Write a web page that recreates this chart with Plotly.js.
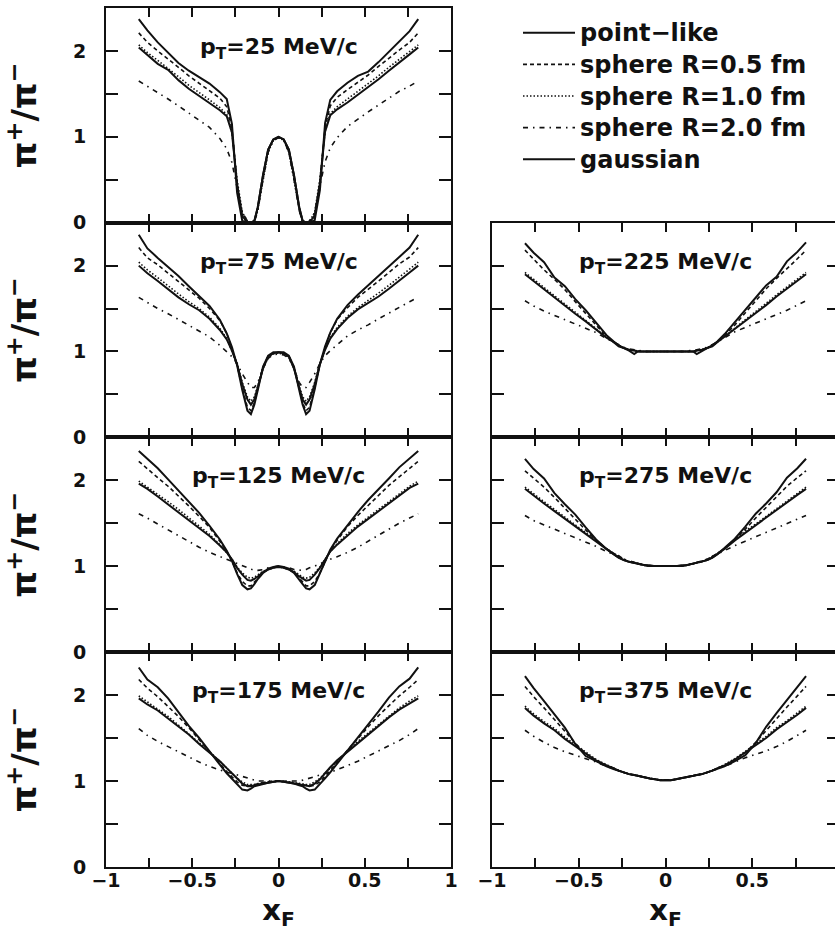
<!DOCTYPE html>
<html>
<head>
<meta charset="utf-8">
<script src="https://cdn.plot.ly/plotly-3.0.1.min.js"></script>
<style>html,body{margin:0;padding:0;overflow:hidden;background:#fff;}#chart{width:840px;height:931px;}</style>
</head>
<body>
<div id="chart"></div>
<script>
// x_F sampling points
const xF = [-0.81,-0.76,-0.70,-0.64,-0.58,-0.52,-0.46,-0.40,-0.34,-0.30,-0.27,-0.24,-0.21,-0.18,-0.16,-0.14,-0.12,-0.09,-0.06,-0.03,0,
            0.03,0.06,0.09,0.12,0.14,0.16,0.18,0.21,0.24,0.27,0.30,0.34,0.40,0.46,0.52,0.58,0.64,0.70,0.76,0.81];

const seriesNames = ["point\u2212like","sphere R=0.5 fm","sphere R=1.0 fm","sphere R=2.0 fm","gaussian"];
const panelLabels = ["25","75","125","175","225","275","375"];

// pT = 25 MeV/c
const pt25_point = [2.37,2.24,2.10,1.98,1.86,1.77,1.70,1.62,1.52,1.44,1.15,0.35,0.02,0.0,0.0,0.02,0.18,0.55,0.85,0.97,1.0,
                    0.97,0.85,0.55,0.18,0.02,0.0,0.0,0.03,0.38,1.16,1.43,1.53,1.63,1.71,1.76,1.87,1.99,2.11,2.23,2.37];
const pt25_r05   = [2.21,2.10,2.00,1.91,1.81,1.71,1.62,1.54,1.45,1.35,1.10,0.45,0.06,0.0,0.0,0.02,0.17,0.54,0.84,0.97,0.99,
                    0.97,0.84,0.54,0.17,0.02,0.0,0.0,0.07,0.46,1.11,1.36,1.46,1.55,1.63,1.72,1.82,1.92,2.01,2.10,2.21];
const pt25_r10   = [2.07,1.98,1.89,1.80,1.70,1.60,1.52,1.43,1.34,1.26,1.05,0.50,0.12,0.02,0.0,0.01,0.15,0.50,0.82,0.96,0.99,
                    0.96,0.82,0.50,0.15,0.01,0.0,0.02,0.12,0.51,1.06,1.27,1.35,1.44,1.53,1.61,1.71,1.81,1.90,1.99,2.07];
const pt25_r20   = [1.65,1.59,1.52,1.44,1.36,1.28,1.20,1.11,0.98,0.86,0.70,0.42,0.12,0.02,0.0,0.01,0.14,0.50,0.82,0.96,0.99,
                    0.96,0.82,0.50,0.14,0.01,0.0,0.02,0.12,0.43,0.71,0.87,0.99,1.12,1.21,1.29,1.37,1.45,1.53,1.59,1.65];
const pt25_gaus  = [2.04,1.95,1.85,1.78,1.66,1.56,1.48,1.39,1.31,1.24,1.05,0.45,0.08,0.0,0.0,0.02,0.18,0.55,0.85,0.97,1.0,
                    0.97,0.85,0.55,0.18,0.02,0.0,0.0,0.09,0.46,1.06,1.25,1.32,1.40,1.49,1.57,1.67,1.77,1.86,1.96,2.04];

// pT = 75 MeV/c
const pt75_point = [2.36,2.20,2.09,1.99,1.88,1.76,1.65,1.53,1.37,1.21,1.05,0.84,0.55,0.31,0.27,0.38,0.55,0.82,0.95,0.99,0.99,
                    0.99,0.95,0.82,0.55,0.38,0.27,0.31,0.56,0.85,1.06,1.22,1.38,1.54,1.66,1.77,1.89,2.00,2.10,2.21,2.36];
const pt75_r05   = [2.21,2.09,2.01,1.91,1.81,1.71,1.62,1.50,1.36,1.21,1.03,0.84,0.57,0.35,0.31,0.40,0.57,0.82,0.94,0.98,0.99,
                    0.98,0.94,0.82,0.57,0.40,0.31,0.35,0.58,0.85,1.04,1.22,1.37,1.51,1.63,1.72,1.82,1.92,2.02,2.10,2.21];
const pt75_r10   = [2.04,1.95,1.86,1.76,1.67,1.58,1.50,1.40,1.27,1.15,1.01,0.86,0.64,0.47,0.42,0.47,0.60,0.80,0.93,0.97,0.98,
                    0.97,0.93,0.80,0.60,0.47,0.42,0.47,0.64,0.86,1.02,1.16,1.28,1.41,1.51,1.59,1.68,1.77,1.87,1.96,2.04];
const pt75_r20   = [1.63,1.57,1.50,1.44,1.37,1.30,1.24,1.17,1.07,1.00,0.94,0.86,0.74,0.64,0.58,0.58,0.64,0.80,0.92,0.96,0.97,
                    0.96,0.92,0.80,0.64,0.58,0.58,0.64,0.74,0.86,0.95,1.01,1.08,1.18,1.25,1.31,1.38,1.45,1.51,1.58,1.63];
const pt75_gaus  = [2.00,1.91,1.82,1.72,1.63,1.55,1.48,1.38,1.25,1.14,1.01,0.85,0.62,0.44,0.38,0.44,0.58,0.80,0.94,0.98,0.99,
                    0.98,0.94,0.80,0.58,0.44,0.38,0.44,0.62,0.85,1.02,1.15,1.26,1.39,1.49,1.56,1.64,1.73,1.83,1.92,2.00];

// pT = 125 MeV/c
const pt125_point = [2.34,2.25,2.14,2.01,1.88,1.76,1.62,1.47,1.31,1.18,1.06,0.91,0.78,0.73,0.74,0.79,0.85,0.92,0.97,0.99,1.0,
                     0.99,0.97,0.92,0.85,0.79,0.74,0.73,0.78,0.91,1.06,1.19,1.32,1.48,1.63,1.77,1.89,2.02,2.15,2.26,2.34];
const pt125_r05   = [2.22,2.13,2.03,1.93,1.82,1.70,1.58,1.45,1.29,1.17,1.06,0.92,0.82,0.77,0.77,0.81,0.86,0.92,0.96,0.98,0.99,
                     0.98,0.96,0.92,0.86,0.81,0.77,0.77,0.82,0.92,1.06,1.18,1.30,1.46,1.59,1.71,1.83,1.94,2.04,2.14,2.22];
const pt125_r10   = [1.99,1.92,1.84,1.75,1.66,1.56,1.47,1.37,1.25,1.16,1.08,0.99,0.92,0.87,0.86,0.87,0.90,0.94,0.96,0.98,0.99,
                     0.98,0.96,0.94,0.90,0.87,0.86,0.87,0.92,0.99,1.08,1.17,1.26,1.38,1.48,1.57,1.67,1.76,1.85,1.93,1.99];
const pt125_r20   = [1.61,1.56,1.49,1.42,1.35,1.28,1.22,1.16,1.11,1.08,1.05,1.03,1.00,0.98,0.96,0.95,0.95,0.96,0.98,0.99,1.0,
                     0.99,0.98,0.96,0.95,0.95,0.96,0.98,1.00,1.03,1.05,1.08,1.11,1.16,1.22,1.29,1.36,1.43,1.50,1.56,1.61];
const pt125_gaus  = [1.96,1.90,1.81,1.72,1.63,1.54,1.45,1.35,1.24,1.16,1.08,0.98,0.90,0.84,0.83,0.85,0.88,0.93,0.96,0.98,0.99,
                     0.98,0.96,0.93,0.88,0.85,0.83,0.84,0.90,0.98,1.08,1.17,1.25,1.36,1.46,1.55,1.64,1.73,1.82,1.91,1.96];

// pT = 175 MeV/c
const pt175_point = [2.32,2.18,2.09,1.96,1.80,1.64,1.50,1.34,1.19,1.09,1.03,0.96,0.90,0.89,0.91,0.94,0.95,0.97,0.98,0.99,1.0,
                     0.99,0.98,0.97,0.95,0.94,0.91,0.89,0.90,0.96,1.03,1.10,1.20,1.35,1.51,1.65,1.81,1.97,2.10,2.19,2.32];
const pt175_r05   = [2.18,2.08,1.98,1.87,1.75,1.62,1.48,1.35,1.21,1.11,1.05,0.99,0.95,0.94,0.95,0.96,0.97,0.98,0.99,1.0,1.0,
                     1.0,0.99,0.98,0.97,0.96,0.95,0.94,0.95,0.99,1.05,1.12,1.22,1.36,1.49,1.63,1.76,1.88,1.99,2.09,2.18];
const pt175_r10   = [1.99,1.92,1.84,1.75,1.65,1.55,1.45,1.34,1.23,1.15,1.09,1.03,0.99,0.96,0.96,0.96,0.97,0.98,0.99,0.99,1.0,
                     0.99,0.99,0.98,0.97,0.96,0.96,0.96,0.99,1.03,1.09,1.16,1.24,1.35,1.46,1.56,1.66,1.76,1.85,1.93,1.99];
const pt175_r20   = [1.61,1.53,1.46,1.40,1.34,1.28,1.22,1.17,1.13,1.10,1.09,1.07,1.05,1.03,1.02,1.01,1.00,1.00,1.00,1.00,1.0,
                     1.00,1.00,1.00,1.00,1.01,1.02,1.03,1.05,1.07,1.09,1.10,1.13,1.18,1.23,1.29,1.35,1.41,1.47,1.54,1.61];
const pt175_gaus  = [1.96,1.89,1.82,1.73,1.63,1.54,1.43,1.33,1.23,1.15,1.09,1.02,0.97,0.94,0.94,0.95,0.96,0.97,0.98,0.99,1.0,
                     0.99,0.98,0.97,0.96,0.95,0.94,0.94,0.97,1.02,1.09,1.16,1.24,1.34,1.44,1.55,1.64,1.74,1.83,1.90,1.96];

// pT = 225 MeV/c
const pt225_point = [2.26,2.15,2.04,1.86,1.76,1.61,1.48,1.33,1.19,1.12,1.07,1.04,1.01,0.97,1.00,1.00,1.00,1.00,1.00,1.00,1.00,
                     1.00,1.00,1.00,1.00,1.00,1.00,0.97,1.01,1.04,1.07,1.12,1.20,1.34,1.49,1.62,1.77,1.87,2.05,2.16,2.27];
const pt225_r05   = [2.18,2.07,1.95,1.84,1.72,1.58,1.44,1.30,1.17,1.11,1.07,1.04,1.02,1.01,1.00,1.00,1.00,1.00,1.00,1.00,1.00,
                     1.00,1.00,1.00,1.00,1.00,1.00,1.01,1.02,1.04,1.07,1.11,1.18,1.31,1.45,1.59,1.73,1.85,1.96,2.08,2.18];
const pt225_r10   = [1.92,1.84,1.74,1.65,1.55,1.45,1.36,1.26,1.17,1.11,1.07,1.04,1.02,1.01,1.00,1.00,1.00,1.00,1.00,1.00,1.00,
                     1.00,1.00,1.00,1.00,1.00,1.00,1.01,1.02,1.04,1.07,1.11,1.17,1.27,1.37,1.46,1.56,1.66,1.75,1.85,1.92];
const pt225_r20   = [1.59,1.53,1.47,1.42,1.37,1.32,1.27,1.22,1.15,1.11,1.08,1.05,1.03,1.02,1.01,1.01,1.00,1.00,1.00,1.00,1.00,
                     1.00,1.00,1.00,1.00,1.01,1.01,1.02,1.03,1.05,1.08,1.11,1.16,1.23,1.28,1.33,1.38,1.43,1.48,1.54,1.59];
const pt225_gaus  = [1.90,1.82,1.72,1.63,1.53,1.44,1.35,1.25,1.16,1.11,1.06,1.04,1.02,1.01,1.00,1.00,1.00,1.00,1.00,1.00,1.00,
                     1.00,1.00,1.00,1.00,1.00,1.00,1.01,1.02,1.04,1.06,1.11,1.17,1.26,1.36,1.45,1.54,1.64,1.73,1.83,1.90];

// pT = 275 MeV/c
const pt275_point = [2.25,2.13,2.02,1.85,1.72,1.60,1.45,1.31,1.20,1.14,1.10,1.07,1.05,1.04,1.03,1.02,1.01,1.01,1.00,1.00,1.00,
                     1.00,1.00,1.01,1.01,1.02,1.03,1.04,1.05,1.07,1.10,1.14,1.21,1.32,1.46,1.61,1.73,1.86,2.03,2.14,2.25];
const pt275_r05   = [2.11,2.02,1.92,1.80,1.67,1.55,1.42,1.30,1.20,1.15,1.12,1.08,1.05,1.04,1.03,1.02,1.01,1.00,1.00,1.00,1.00,
                     1.00,1.00,1.00,1.01,1.02,1.03,1.04,1.05,1.08,1.12,1.15,1.20,1.31,1.43,1.56,1.68,1.81,1.93,2.03,2.11];
const pt275_r10   = [1.92,1.84,1.75,1.66,1.57,1.48,1.40,1.30,1.20,1.15,1.11,1.08,1.05,1.04,1.03,1.02,1.01,1.00,1.00,1.00,1.00,
                     1.00,1.00,1.00,1.01,1.02,1.03,1.04,1.05,1.08,1.11,1.15,1.20,1.31,1.41,1.49,1.58,1.67,1.76,1.85,1.92];
const pt275_r20   = [1.59,1.53,1.48,1.43,1.38,1.33,1.28,1.23,1.17,1.14,1.11,1.08,1.06,1.04,1.03,1.02,1.01,1.00,1.00,1.00,1.00,
                     1.00,1.00,1.00,1.01,1.02,1.03,1.04,1.06,1.08,1.11,1.14,1.18,1.24,1.29,1.34,1.39,1.44,1.49,1.54,1.59];
const pt275_gaus  = [1.90,1.82,1.73,1.64,1.55,1.46,1.38,1.29,1.19,1.14,1.10,1.07,1.05,1.04,1.03,1.02,1.01,1.00,1.00,1.00,1.00,
                     1.00,1.00,1.00,1.01,1.02,1.03,1.04,1.05,1.07,1.10,1.14,1.20,1.30,1.39,1.47,1.56,1.65,1.74,1.83,1.90];

// pT = 375 MeV/c
const pt375_point = [2.22,2.08,1.93,1.78,1.62,1.43,1.29,1.23,1.17,1.14,1.12,1.10,1.08,1.07,1.06,1.05,1.04,1.03,1.02,1.01,1.01,
                     1.01,1.02,1.03,1.04,1.05,1.06,1.07,1.08,1.10,1.12,1.14,1.17,1.23,1.30,1.44,1.63,1.79,1.94,2.09,2.22];
const pt375_r05   = [2.10,1.98,1.85,1.72,1.58,1.44,1.32,1.24,1.18,1.15,1.12,1.10,1.08,1.07,1.06,1.05,1.04,1.03,1.02,1.01,1.01,
                     1.01,1.02,1.03,1.04,1.05,1.06,1.07,1.08,1.10,1.12,1.15,1.18,1.25,1.33,1.45,1.59,1.73,1.86,1.99,2.10];
const pt375_r10   = [1.87,1.78,1.69,1.61,1.51,1.42,1.33,1.25,1.19,1.15,1.12,1.10,1.08,1.07,1.06,1.05,1.04,1.03,1.02,1.01,1.01,
                     1.01,1.02,1.03,1.04,1.05,1.06,1.07,1.08,1.10,1.12,1.15,1.19,1.26,1.34,1.43,1.52,1.62,1.70,1.79,1.87];
const pt375_r20   = [1.59,1.52,1.45,1.39,1.34,1.30,1.26,1.22,1.17,1.14,1.12,1.10,1.08,1.07,1.06,1.05,1.04,1.03,1.02,1.01,1.01,
                     1.01,1.02,1.03,1.04,1.05,1.06,1.07,1.08,1.10,1.12,1.14,1.17,1.22,1.27,1.31,1.35,1.40,1.46,1.53,1.59];
const pt375_gaus  = [1.85,1.76,1.67,1.59,1.49,1.40,1.32,1.24,1.18,1.15,1.12,1.10,1.08,1.07,1.06,1.05,1.04,1.03,1.02,1.01,1.01,
                     1.01,1.02,1.03,1.04,1.05,1.06,1.07,1.08,1.10,1.12,1.15,1.18,1.25,1.33,1.41,1.50,1.60,1.68,1.77,1.85];

const panels = [
  [pt25_point, pt25_r05, pt25_r10, pt25_r20, pt25_gaus],
  [pt75_point, pt75_r05, pt75_r10, pt75_r20, pt75_gaus],
  [pt125_point, pt125_r05, pt125_r10, pt125_r20, pt125_gaus],
  [pt175_point, pt175_r05, pt175_r10, pt175_r20, pt175_gaus],
  [pt225_point, pt225_r05, pt225_r10, pt225_r20, pt225_gaus],
  [pt275_point, pt275_r05, pt275_r10, pt275_r20, pt275_gaus],
  [pt375_point, pt375_r05, pt375_r10, pt375_r20, pt375_gaus]
];

// styles
const lineStyles = [
  {color:"#111", width:2, dash:"solid"},
  {color:"#111", width:1.6, dash:"4px,3px"},
  {color:"#111", width:1.6, dash:"1.5px,2px"},
  {color:"#111", width:1.6, dash:"5px,5px,1.5px,5px"},
  {color:"#111", width:2, dash:"solid"}
];

const W = 840, H = 931;
const M = {l:106, r:1, t:8, b:64};
const PW = W - M.l - M.r, PH = H - M.t - M.b;
const FONT = "DejaVu Sans, Verdana, sans-serif";
// panel geometry (pixels, page coordinates)
const colX = [[106,451],[492,839]];
const rowY = [[8,222.7],[222.7,437.3],[437.3,652],[652,867]];
const panelPos = [[0,0],[0,1],[0,2],[0,3],[1,1],[1,2],[1,3]];
const fx = px => Math.min(1, Math.max(0, (px - M.l) / PW));
const fy = py => Math.min(1, Math.max(0, 1 - (py - M.t) / PH));

const traces = [];
const layout = {
  width: W, height: H,
  margin: M,
  paper_bgcolor: "#fff", plot_bgcolor: "#fff",
  showlegend: true,
  legend: {
    x: (518 - M.l) / PW, y: 1 - (12 - M.t) / PH, xanchor: "left", yanchor: "top",
    bgcolor: "rgba(0,0,0,0)", borderwidth: 0,
    font: {family: FONT, size: 22, color: "#111", weight: "bold"},
    itemwidth: 52, tracegroupgap: 0
  },
  annotations: []
};

panels.forEach((series, p) => {
  const [c, r] = panelPos[p];
  const n = p + 1;
  const xa = "x" + (n === 1 ? "" : n), ya = "y" + (n === 1 ? "" : n);
  series.forEach((vals, s) => {
    traces.push({
      x: xF, y: vals, xaxis: xa, yaxis: ya, type: "scatter", mode: "lines",
      name: "<span style=\"font-size:24px\">" + seriesNames[s] + "</span>", line: lineStyles[s],
      showlegend: p === 0, hoverinfo: "skip"
    });
  });
  const bottom = r === 3;
  const xax = {
    domain: [fx(colX[c][0]), fx(colX[c][1])], anchor: ya,
    range: [-1, 1],
    ticks: "inside", ticklen: 9, tickwidth: 2, tickcolor: "#111",
    minor: {tickmode: "linear", tick0: -1, dtick: 0.25, ticks: "inside", ticklen: 9, tickwidth: 2, tickcolor: "#111", showgrid: false},
    showline: true, linewidth: 2, linecolor: "#111", mirror: "ticks",
    showgrid: false, zeroline: false, showticklabels: bottom,
    tickfont: {family: FONT, size: 19, color: "#111", weight: "bold"}
  };
  if (bottom) {
    Object.assign(xax, {tickmode: "linear", tick0: -1, dtick: 0.5, ticklabelstandoff: -5});
    xax.title = {text: "x<sub>F</sub>", font: {family: FONT, size: 29, color: "#111", weight: "bold"}, standoff: 16};
    xax.automargin = "height";
  } else {
    Object.assign(xax, {tickmode: "array", tickvals: []});
  }
  const yax = {
    domain: [fy(rowY[r][1]), fy(rowY[r][0])], anchor: xa,
    range: [0, 2.5],
    ticks: "inside", ticklen: 12, tickwidth: 2, tickcolor: "#111",
    minor: {tickmode: "linear", tick0: 0, dtick: 0.5, ticks: "inside", ticklen: 12, tickwidth: 2, tickcolor: "#111", showgrid: false},
    showline: true, linewidth: 2, linecolor: "#111", mirror: "ticks",
    showgrid: false, zeroline: false, showticklabels: c === 0,
    tickfont: {family: FONT, size: 19, color: "#111", weight: "bold"}
  };
  if (c === 0) {
    Object.assign(yax, {tickmode: "linear", tick0: 0, dtick: 1, ticklabelstandoff: 14});
    yax.title = {text: "\u03c0<sup>+</sup>/\u03c0<sup>\u2212</sup>", font: {family: FONT, size: 34, color: "#111", weight: "bold"}, standoff: 26};
    yax.automargin = "width";
  } else {
    Object.assign(yax, {tickmode: "array", tickvals: []});
  }
  layout["xaxis" + (n === 1 ? "" : n)] = xax;
  layout["yaxis" + (n === 1 ? "" : n)] = yax;
  layout.annotations.push({
    xref: xa, yref: ya, x: 0, y: 2.03, xanchor: "center", yanchor: "middle",
    text: "p<sub>T</sub>=" + panelLabels[p] + " MeV/c", showarrow: false,
    font: {family: FONT, size: 22, color: "#111", weight: "bold"}
  });
});

Plotly.newPlot("chart", traces, layout, {staticPlot: true, displayModeBar: false});
</script>
</body>
</html>
